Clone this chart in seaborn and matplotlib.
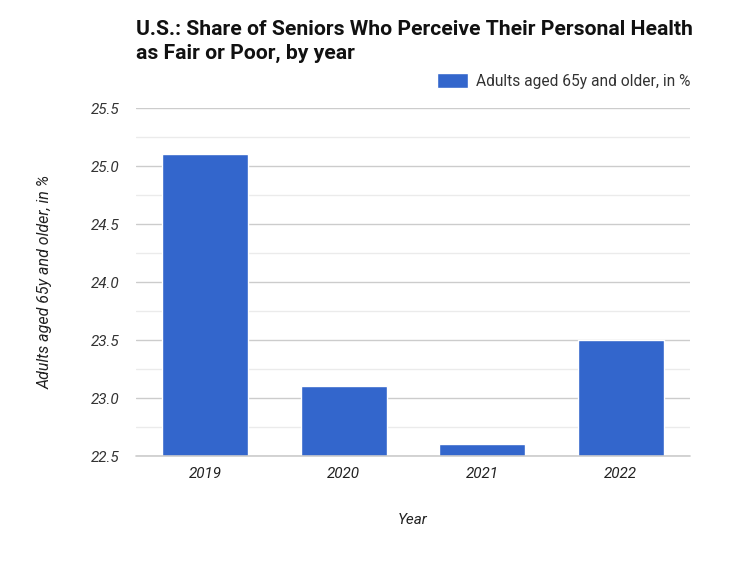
import matplotlib
matplotlib.use("Agg")
import matplotlib.pyplot as plt
import seaborn as sns
import pandas as pd
from matplotlib.patches import Patch
from matplotlib.ticker import MultipleLocator

years = ["2019", "2020", "2021", "2022"]
values = [25.1, 23.1, 22.6, 23.5]
series_name = "Adults aged 65y and older, in %"
yticks = [22.5, 23.0, 23.5, 24.0, 24.5, 25.0, 25.5]

sns.set_style("white")
plt.rcParams['font.family'] = ['Roboto', 'DejaVu Sans']

df = pd.DataFrame({"Year": years, "Value": values})

fig = plt.figure(figsize=(7.5, 5.63), dpi=100)
ax = fig.add_axes([0.181, 0.19, 0.739, 0.618])

ax.set_ylim(22.5, 25.5)
ax.yaxis.set_major_locator(MultipleLocator(0.5))
ax.yaxis.set_minor_locator(MultipleLocator(0.25))
ax.grid(which="major", axis="y", color="#cccccc", linewidth=1)
ax.grid(which="minor", axis="y", color="#ebebeb", linewidth=1)
ax.set_axisbelow(True)

sns.barplot(data=df, x="Year", y="Value", color="#3366cc", saturation=1,
            width=0.62, ax=ax, zorder=3)
ax.axhline(22.5, color="#cccccc", linewidth=1.2, clip_on=False, zorder=4)

for s in ax.spines.values():
    s.set_visible(False)
ax.tick_params(axis="both", which="both", length=0)
ax.tick_params(axis="y", pad=11.5)
ax.tick_params(axis="x", pad=8)
ax.set_yticks(yticks)
ax.set_yticklabels([f"{v:.1f}" for v in yticks],
                   fontstyle="italic", fontsize=11, color="#333333")
for lbl in ax.get_xticklabels():
    lbl.set_fontstyle("italic")
    lbl.set_fontsize(11)
    lbl.set_color("#222222")

ax.set_xlabel("Year", fontstyle="italic", fontsize=11, color="#222222", va="center")
ax.xaxis.set_label_coords(0.5, -0.184)
ax.set_ylabel(series_name, fontstyle="italic", fontsize=11.5, color="#222222", va="center")
ax.yaxis.set_label_coords(-0.164, 0.5)

fig.text(0.181, 0.926, "U.S.: Share of Seniors Who Perceive Their Personal Health\nas Fair or Poor, by year",
         fontsize=15.2, fontweight="bold", color="#111111", ha="left", va="center",
         linespacing=1.35)

leg = ax.legend(handles=[Patch(facecolor="#3366cc", label=series_name)],
                loc="center right", bbox_to_anchor=(1.0, 1.077), frameon=False,
                fontsize=11.2, handlelength=2.0, handleheight=1.1, borderaxespad=0.0,
                borderpad=0.0, handletextpad=0.5)
for t in leg.get_texts():
    t.set_color("#333333")

fig.savefig("out.png", dpi=100, facecolor="white")
